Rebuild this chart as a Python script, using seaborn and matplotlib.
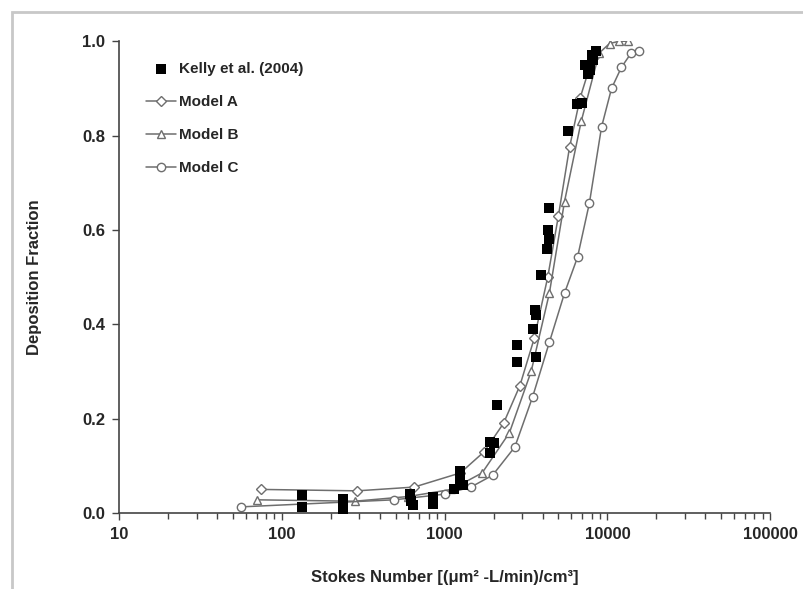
import matplotlib
matplotlib.use("Agg")
import matplotlib.pyplot as plt
import seaborn as sns
import pandas as pd
from matplotlib.patches import Rectangle
from matplotlib.ticker import LogLocator, FixedLocator

# Kelly et al. (2004) measurements
kelly_x = [133, 133, 237, 237, 237, 610, 620, 640, 843, 850, 1150, 1236, 1240, 1300,
           1888, 2000, 1900, 2084, 2768, 2768, 3470, 3600, 3620, 3666, 3936, 4230,
           4350, 4300, 4380, 5690, 6460, 7000, 7300, 7600, 7800, 8000, 8200, 8500]
kelly_y = [0.038, 0.013, 0.03, 0.02, 0.008, 0.04, 0.025, 0.018, 0.035, 0.02, 0.05, 0.09,
           0.07, 0.06, 0.15, 0.148, 0.127, 0.229, 0.356, 0.32, 0.39, 0.43, 0.42, 0.33,
           0.504, 0.56, 0.646, 0.60, 0.58, 0.81, 0.868, 0.87, 0.95, 0.93, 0.94, 0.97,
           0.96, 0.98]

model_a_x = [75, 290, 650, 1250, 1750, 2300, 2900, 3550, 4300, 5000, 5850, 6800, 7700, 8500]
model_a_y = [0.05, 0.047, 0.055, 0.085, 0.13, 0.19, 0.27, 0.37, 0.50, 0.63, 0.775, 0.88, 0.94, 0.97]

model_b_x = [70, 280, 600, 1100, 1700, 2500, 3400, 4400, 5450, 6900, 8900, 10300, 11800, 13300]
model_b_y = [0.028, 0.025, 0.035, 0.05, 0.085, 0.17, 0.30, 0.466, 0.66, 0.83, 0.975, 0.995, 1.0, 1.0]

model_c_x = [56, 490, 1000, 1450, 1970, 2700, 3470, 4400, 5450, 6550, 7750, 9200, 10600,
             12200, 14000, 15700]
model_c_y = [0.013, 0.028, 0.04, 0.055, 0.08, 0.14, 0.246, 0.362, 0.466, 0.542, 0.657,
             0.818, 0.90, 0.945, 0.975, 0.98]

sns.set_style("white")
plt.rcParams['font.family'] = ['Liberation Sans', 'DejaVu Sans']
plt.rcParams['font.weight'] = 'bold'

fig = plt.figure(figsize=(8.04, 5.89), dpi=100)
ax = fig.add_axes([0.148, 0.129, 0.81, 0.801])

# light grey frame around the figure
fig.patches.append(Rectangle((12 / 804, -0.1), 1.2, 1 - 12 / 589 + 0.1,
                             transform=fig.transFigure, fill=False,
                             edgecolor='#c8c8c8', linewidth=2))

line_col = '#6e6e6e'
models = [("Model A", model_a_x, model_a_y, 'D', 5),
          ("Model B", model_b_x, model_b_y, '^', 5.5),
          ("Model C", model_c_x, model_c_y, 'o', 6)]

kelly = pd.DataFrame({"x": kelly_x, "y": kelly_y})
sns.scatterplot(data=kelly, x="x", y="y", ax=ax, marker='s', s=60, color='black',
                edgecolor='black', linewidth=0, label="Kelly et al. (2004)", zorder=3)

for name, xs, ys, mk, ms in models:
    df = pd.DataFrame({"x": xs, "y": ys})
    sns.lineplot(data=df, x="x", y="y", ax=ax, color=line_col, linewidth=1.1,
                 marker=mk, markersize=ms, markerfacecolor='white',
                 markeredgecolor=line_col, markeredgewidth=1, label=name,
                 sort=False, zorder=2)

ax.set_xscale('log')
ax.set_xlim(10, 100000)
ax.set_ylim(0, 1.0)
ax.set_yticks([0.0, 0.2, 0.4, 0.6, 0.8, 1.0])
ax.set_yticklabels([f"{v:.1f}" for v in [0.0, 0.2, 0.4, 0.6, 0.8, 1.0]])
ax.xaxis.set_major_locator(FixedLocator([10, 100, 1000, 10000, 100000]))
ax.set_xticklabels(["10", "100", "1000", "10000", "100000"])
ax.xaxis.set_minor_locator(LogLocator(base=10, subs=range(2, 10)))

for side in ['top', 'right']:
    ax.spines[side].set_visible(False)
for side in ['left', 'bottom']:
    ax.spines[side].set_color('#444444')
    ax.spines[side].set_linewidth(1.2)

ax.tick_params(axis='both', which='major', direction='out', length=5, width=1,
               color='#444444', labelsize=12)
ax.tick_params(axis='x', which='major', pad=5)
ax.tick_params(axis='y', which='major', pad=5)
ax.tick_params(axis='x', which='minor', direction='out', length=4, width=1,
               color='#444444', bottom=True)
ax.tick_params(axis='y', left=True)
ax.tick_params(axis='x', bottom=True)
for lbl in ax.get_xticklabels() + ax.get_yticklabels():
    lbl.set_fontweight('bold')

ax.set_xlabel("Stokes Number [(\u03bcm\u00b2 -L/min)/cm\u00b3]", fontsize=12,
              fontweight='bold', labelpad=20)
ax.set_ylabel("Deposition Fraction", fontsize=12, fontweight='bold', labelpad=29)

leg = ax.legend(loc='upper left', bbox_to_anchor=(0.02, 0.985), frameon=False,
                fontsize=11, handlelength=2.0, handletextpad=0.2, labelspacing=1.25)
for t in leg.get_texts():
    t.set_fontweight('bold')

fig.savefig("out.png", dpi=100)
